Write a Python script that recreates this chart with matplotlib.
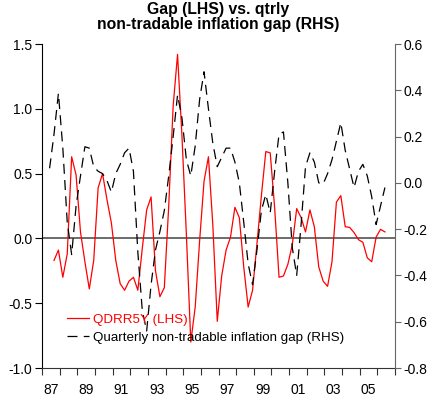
import numpy as np
import matplotlib
matplotlib.use('Agg')
from matplotlib import pyplot as plt
from matplotlib.ticker import FixedLocator, FormatStrFormatter, NullFormatter

plt.rcParams['font.family'] = ['Liberation Sans', 'DejaVu Sans']
plt.rcParams['axes.unicode_minus'] = False

# quarterly data
# QDRR5Y (LHS), starts 1987Q3
qdrr_start = 1987.68
qdrr = [-0.17, -0.09, -0.30, -0.12, 0.63, 0.49, 0.05, -0.18, -0.39, -0.17,
        0.39, 0.50, 0.30, 0.12, -0.17, -0.35, -0.40, -0.33, -0.30, -0.40,
        -0.08, 0.22, 0.32, -0.25, -0.45, -0.38, 0.25, 1.02, 1.42, 0.79,
        0.03, -0.80, -0.53, -0.02, 0.44, 0.63, 0.10, -0.64, -0.29, -0.09,
        0.01, 0.24, 0.16, -0.22, -0.53, -0.40, -0.04, 0.33, 0.67, 0.66,
        0.24, -0.30, -0.29, -0.20, -0.05, 0.23, 0.16, 0.05, 0.22, 0.09,
        -0.22, -0.33, -0.37, -0.18, 0.28, 0.33, 0.09, 0.085, 0.045, -0.01,
        -0.03, -0.15, -0.18, 0.01, 0.07, 0.05]

# quarterly non-tradable inflation gap (RHS), starts one quarter earlier
nt_start = 1987.43
nt_gap = [0.063, 0.21, 0.387, 0.15, -0.17, -0.31, -0.10, 0.03, 0.156, 0.15,
          0.07, 0.05, 0.04, 0.01, -0.04, 0.04, 0.08, 0.13, 0.15, 0.05,
          -0.30, -0.55, -0.64, -0.44, -0.29, -0.21, -0.12, 0.03, 0.20, 0.38,
          0.28, 0.10, 0.03, 0.16, 0.36, 0.48, 0.32, 0.17, 0.07, 0.11,
          0.15, 0.15, 0.09, 0.0, -0.17, -0.35, -0.44, -0.29, -0.12, -0.05,
          -0.13, 0.05, 0.21, 0.22, 0.0, -0.28, -0.40, -0.18, 0.07, 0.13,
          0.09, 0.0, -0.005, 0.04, 0.10, 0.18, 0.26, 0.14, 0.06, -0.02,
          0.05, 0.08, 0.03, -0.06, -0.18, -0.10, -0.02]

years = np.arange(1987, 2008)
year_labels = ['87', '89', '91', '93', '95', '97', '99', '01', '03', '05']
lhs_ticks = [-1.0, -0.5, 0.0, 0.5, 1.0, 1.5]
rhs_ticks = [-0.8, -0.6, -0.4, -0.2, 0.0, 0.2, 0.4, 0.6]

x_qdrr = qdrr_start + 0.25 * np.arange(len(qdrr))
x_nt = nt_start + 0.25 * np.arange(len(nt_gap))

fig = plt.figure(figsize=(4.29, 4.01), dpi=100)
ax = fig.add_axes([42/429, 1-368/401, 353/429, 324/401])
ax2 = ax.twinx()

ax.axhline(0, color='#606060', lw=1.3, zorder=1)
l1, = ax.plot(x_qdrr, qdrr, color='#ff0000', lw=0.9, zorder=2)
l2, = ax2.plot(x_nt, nt_gap, color='black', lw=0.9, dashes=(8, 5))

ax.set_xlim(1987, 2007)
ax.set_ylim(-1.0, 1.5)
ax2.set_ylim(-0.8, 0.6)

# year ticks at the boundaries, labels centred in the year
ax.xaxis.set_major_locator(FixedLocator(years))
ax.xaxis.set_major_formatter(NullFormatter())
label_pos = [(1900 if int(s) > 50 else 2000) + int(s) + 0.5 for s in year_labels]
ax.xaxis.set_minor_locator(FixedLocator(label_pos))
ax.set_xticklabels(year_labels, minor=True)
ax.tick_params(axis='x', which='major', direction='out', length=5, width=0.8, color='#333333')
ax.tick_params(axis='x', which='minor', length=0, pad=11, labelsize=10)

ax.yaxis.set_major_locator(FixedLocator(lhs_ticks))
ax.yaxis.set_major_formatter(FormatStrFormatter('%.1f'))
ax.tick_params(axis='y', direction='out', length=5, width=0.8, pad=2, labelsize=10)

ax2.yaxis.set_major_locator(FixedLocator(rhs_ticks))
ax2.yaxis.set_major_formatter(FormatStrFormatter('%.1f'))
ax2.tick_params(axis='y', direction='out', length=4, width=0.8, pad=2, labelsize=10, color='#666666')

for a in (ax, ax2):
    a.spines['top'].set_visible(False)
ax.spines['right'].set_visible(False)
ax2.spines['left'].set_visible(False)
ax2.spines['bottom'].set_visible(False)
ax.spines['left'].set_color('black')
ax.spines['bottom'].set_color('#333333')
ax2.spines['right'].set_color('#666666')

fig.text(0.509, 1 - 2/401, 'Gap (LHS) vs. qtrly\nnon-tradable inflation gap (RHS)',
         ha='center', va='top', fontsize=11.3, fontweight='bold', linespacing=1.0)

ax2.legend([l1, l2], ['QDRR5Y (LHS)', 'Quarterly non-tradable inflation gap (RHS)'],
           loc='lower left', bbox_to_anchor=(0.07, 0.075), frameon=False, fontsize=9.6,
           handlelength=1.7, handletextpad=0.25, labelspacing=0.4, borderpad=0,
           borderaxespad=0, labelcolor=['#ff0000', 'black'])

plt.savefig('out.png', dpi=100)
